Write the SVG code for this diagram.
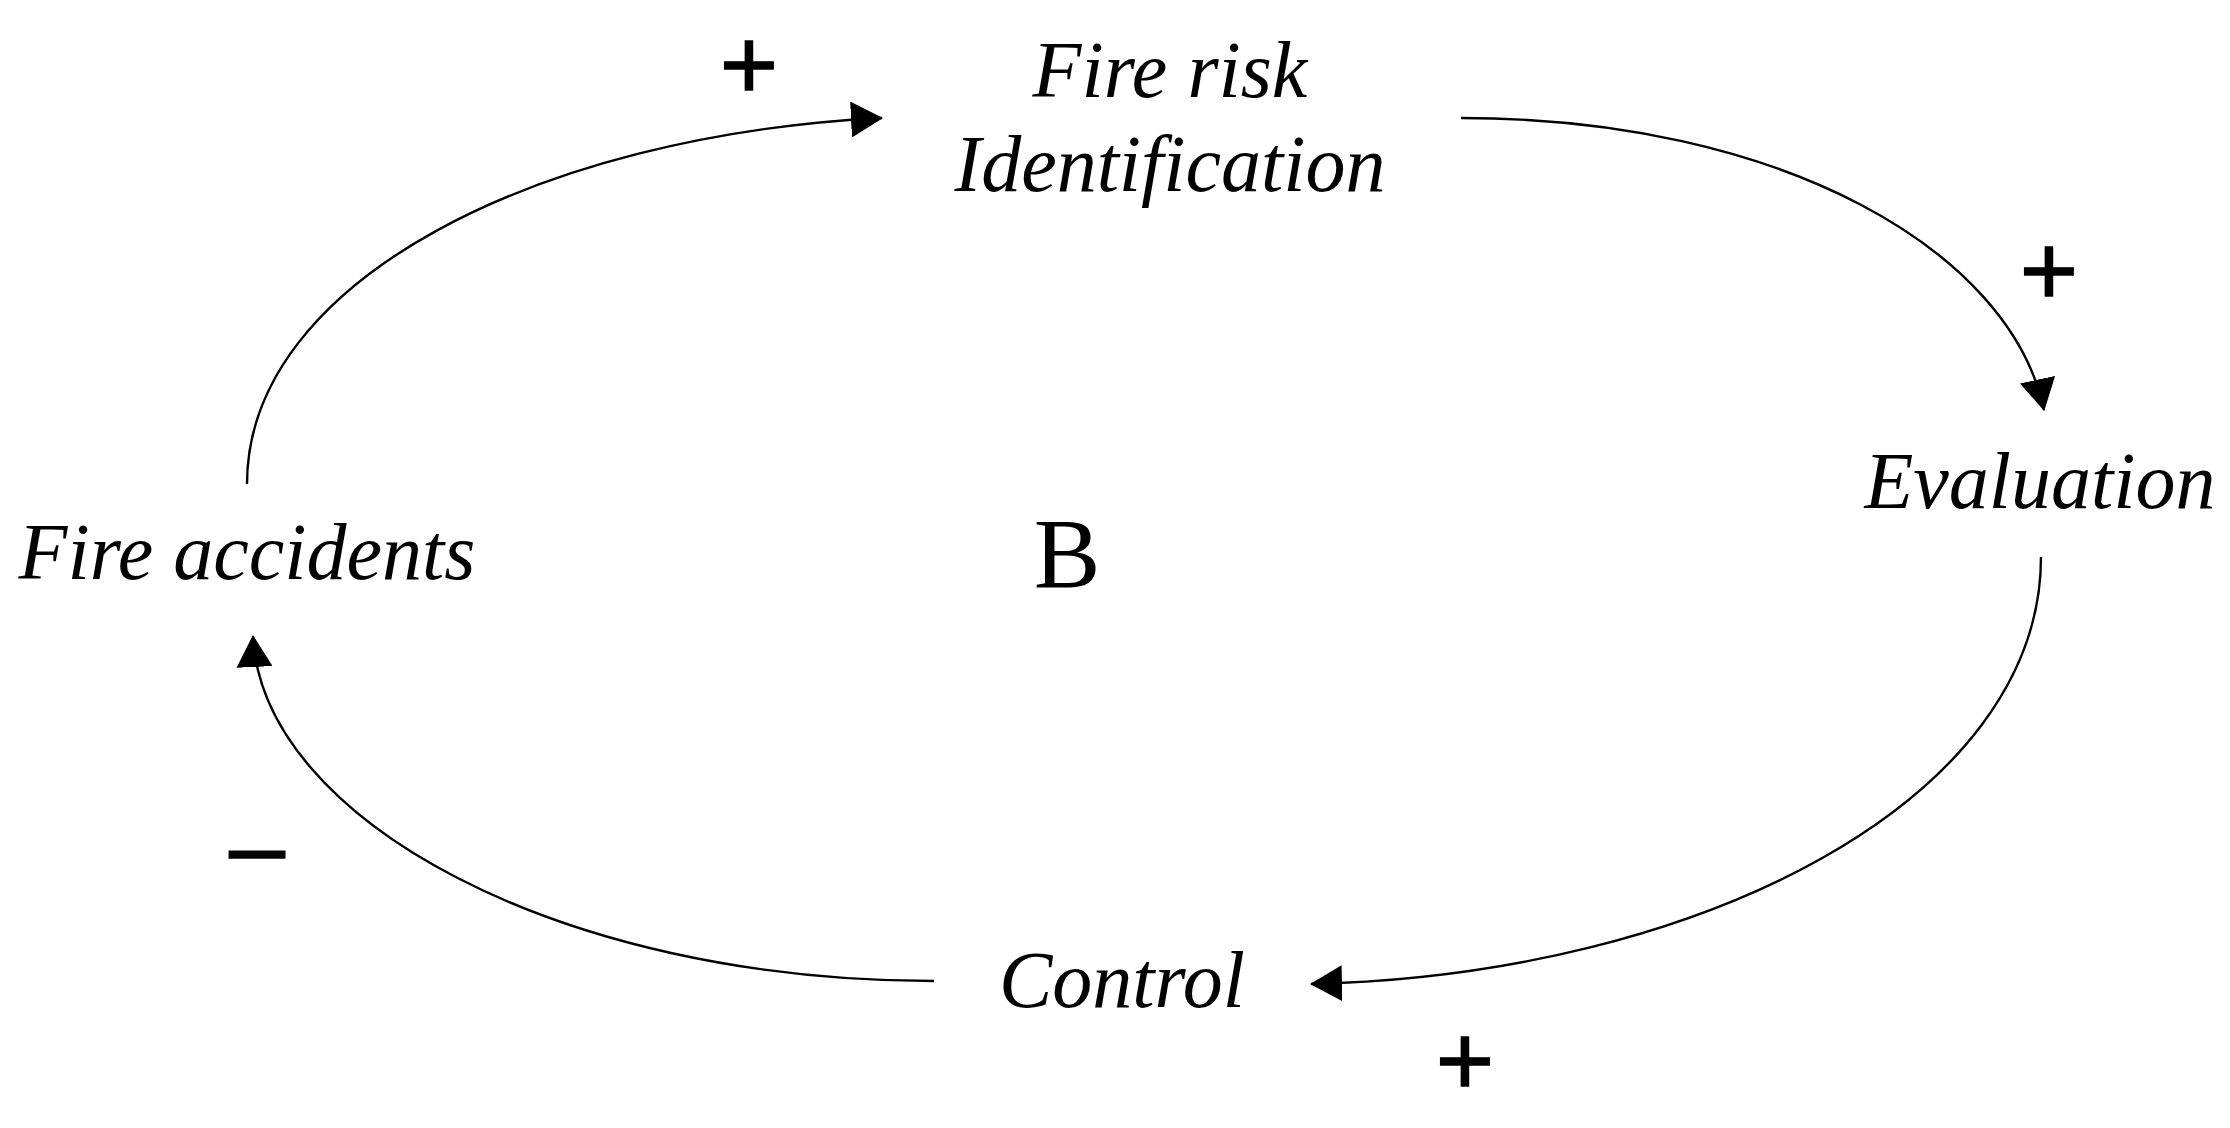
<svg xmlns="http://www.w3.org/2000/svg" width="2230" height="1128" viewBox="0 0 2230 1128">
<style>
.lbl{font-family:"Liberation Serif","Times New Roman",serif;font-style:italic;font-size:80px;fill:#000;text-anchor:middle}
.sign{font-family:"Liberation Sans",Arial,sans-serif;font-size:100px;fill:#000;stroke:#000;stroke-width:1.4;text-anchor:middle}
.loop{font-family:"Liberation Serif","Times New Roman",serif;font-size:100px;fill:#000;text-anchor:middle}
.edge{fill:none;stroke:#000;stroke-width:2.4}
</style>
<defs>
<marker id="ah" markerUnits="userSpaceOnUse" markerWidth="32" markerHeight="36" refX="31" refY="18" orient="auto">
<path d="M0,0 L32,18 L0,36 Z" fill="#000"/>
</marker>
</defs>
<rect width="2230" height="1128" fill="#fff"/>
<g id="connectors">
<path class="edge" d="M247,484 C247,280 540,135 882,118" marker-end="url(#ah)"/>
<path class="edge" d="M1461,118 C1780,118 2010,250 2044,410" marker-end="url(#ah)"/>
<path class="edge" d="M2041,557 C2041,800 1700,975 1311,984" marker-end="url(#ah)"/>
<path class="edge" d="M934,981 C560,981 262,820 253,636" marker-end="url(#ah)"/>
</g>
<g id="node-fire-risk"><text class="lbl" x="1170" y="97">Fire risk</text><text class="lbl" x="1170" y="191">Identification</text></g>
<g id="node-evaluation"><text class="lbl" x="2040" y="508">Evaluation</text></g>
<g id="node-control"><text class="lbl" x="1122" y="1007">Control</text></g>
<g id="node-fire-accidents"><text class="lbl" x="247" y="579">Fire accidents</text></g>
<g id="loop-label"><text class="loop" x="1067" y="587">B</text></g>
<g id="polarity">
<text class="sign" x="749" y="99">+</text>
<text class="sign" x="2049" y="305">+</text>
<text class="sign" x="1465" y="1095">+</text>
<text class="sign" x="257" y="880">–</text>
</g>
</svg>
